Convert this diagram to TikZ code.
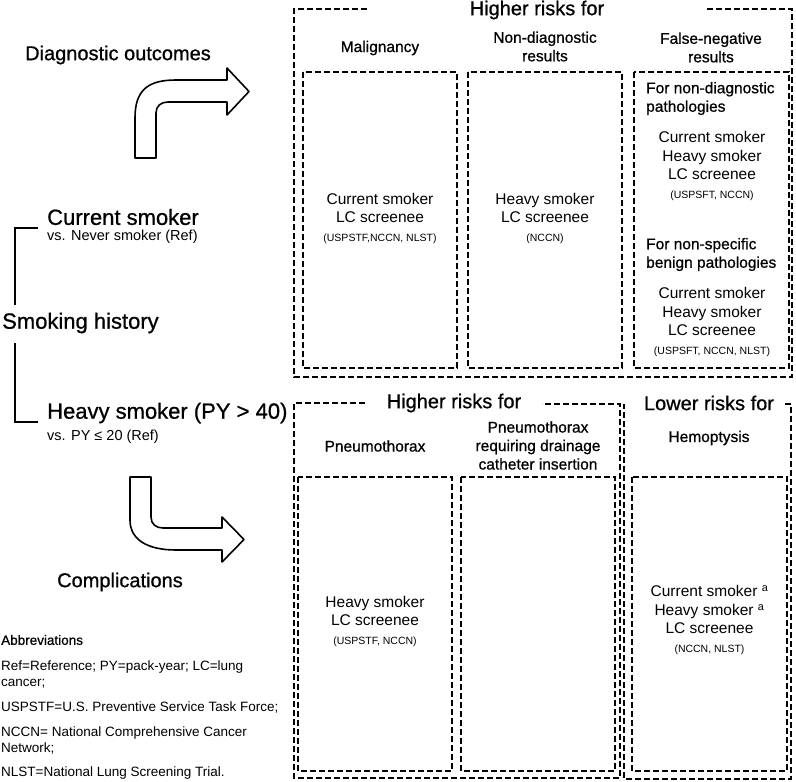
\documentclass[tikz,border=0pt]{standalone}
\usepackage{fontspec}
\setmainfont{Liberation Sans}
\newfontfamily\medfont{Liberation Sans}[FakeBold=0.8]
\newcommand{\refsrc}[1]{{\fontsize{10.5}{12}\selectfont #1}}
\begin{document}
\begin{tikzpicture}[x=1pt,y=-1pt,
	dbox/.style={line width=1.8pt,dash pattern=on 6pt off 3pt},
	bendarrow/.style={line width=1.6pt,line join=round,fill=white},
	bracket/.style={line width=2pt},
	bigtext/.style={font=\medfont\fontsize{22}{26}\selectfont,inner sep=0pt,anchor=west},
	subtext/.style={font=\fontsize{14.5}{17}\selectfont,inner sep=0pt,anchor=west},
	headtext/.style={font=\medfont\fontsize{20}{24}\selectfont,inner sep=0pt},
	coltext/.style={font=\fontsize{15.5}{18.5}\selectfont,inner sep=0pt,align=center},
	colhead/.style={coltext,font=\medfont\fontsize{15.5}{18.5}\selectfont},
	abbrtext/.style={font=\fontsize{13.5}{16}\selectfont,inner sep=0pt,anchor=west,align=left}]
		\useasboundingbox (0,0) rectangle (796,782);
		% smoking history side
		\node[headtext,anchor=west] (diag) at (25,55) {Diagnostic outcomes};
		\node[bigtext] (cur) at (47,217) {Current smoker};
		\node[subtext] (curref) at (47,237) {vs. Never smoker (Ref)};
		\node[bigtext] (hist) at (2,323) {Smoking history};
		\node[bigtext] (heavy) at (47,413) {Heavy smoker (PY > 40)};
		\node[subtext] (heavyref) at (47,437) {vs. PY ≤ 20 (Ref)};
		\node[headtext] (compl) at (120,582) {Complications};
		\draw[bracket] (38,228) -- (15,228) -- (15,305);
		\draw[bracket] (15,343) -- (15,422) -- (38,422);
		\draw[bendarrow] (135,158) -- (135,118) .. controls (135,90) and (148,80) .. (176,80) -- (227,80) -- (227,68) -- (249,91.5) -- (227,115) -- (227,102) -- (168,102) .. controls (161,102) and (156,106) .. (156,113) -- (156,158) -- cycle;
		\draw[bendarrow] (130,477) -- (130,520) .. controls (130,540) and (148,550) .. (176,550) -- (222,550) -- (222,562) -- (244,539.5) -- (222,517) -- (222,528) -- (163,528) .. controls (156,528) and (151,524) .. (151,517) -- (151,477) -- cycle;
		% abbreviations
		\node[abbrtext,font=\medfont\fontsize{13.5}{16}\selectfont] (abbr) at (1,640) {Abbreviations};
		\node[abbrtext] (abbra) at (1,674) {Ref=Reference; PY=pack-year; LC=lung\\cancer;};
		\node[abbrtext] (abbrb) at (1,707) {USPSTF=U.S. Preventive Service Task Force;};
		\node[abbrtext] (abbrc) at (1,740) {NCCN= National Comprehensive Cancer\\Network;};
		\node[abbrtext] (abbrd) at (1,773) {NLST=National Lung Screening Trial.};
		% diagnostic outcomes
		\draw[dbox] (367,9) -- (294,9) -- (294,377) -- (792,377) -- (792,9) -- (707,9);
		\foreach \l/\r in {303/457,468/622,634/789}
			\draw[dbox] (\l,72) rectangle (\r,368);
		\node[headtext] (higherdiag) at (537,10) {Higher risks for};
		\node[colhead] (malig) at (380,48) {Malignancy};
		\node[colhead] (nondiag) at (545,46.5) {Non-diagnostic\\results};
		\node[colhead] (falseneg) at (711,47.5) {False-negative\\results};
		\node[coltext] (maligin) at (380,218) {Current smoker\\LC screenee\\\refsrc{(USPSTF,NCCN, NLST)}};
		\node[coltext] (nondiagin) at (545,218) {Heavy smoker\\LC screenee\\\refsrc{(NCCN)}};
		\node[colhead,align=left,anchor=west] (fnpath) at (646,98.5) {For non-diagnostic\\pathologies};
		\node[coltext] (fnpathin) at (712,166) {Current smoker\\Heavy smoker\\LC screenee\\\refsrc{(USPSFT, NCCN)}};
		\node[colhead,align=left,anchor=west] (fnbenign) at (646,254.5) {For non-specific\\benign pathologies};
		\node[coltext] (fnbenignin) at (712,322) {Current smoker\\Heavy smoker\\LC screenee\\\refsrc{(USPSFT, NCCN, NLST)}};
		% complications
		\draw[dbox] (365,403) -- (294,403) -- (294,778) -- (620,778) -- (620,404) -- (542,404);
		\draw[dbox] (785,404) -- (791,404) -- (791,779) -- (624,779) -- (624,404);
		\foreach \l/\r in {298/452,461/615,632/787}
			\draw[dbox] (\l,477) rectangle (\r,771);
		\node[headtext] (highercompl) at (454,403) {Higher risks for};
		\node[headtext] (lowercompl) at (709,403) {Lower risks for};
		\node[colhead] (pneumo) at (375,446) {Pneumothorax};
		\node[colhead] (drain) at (538,445.5) {Pneumothorax\\requiring drainage\\catheter insertion};
		\node[colhead] (hemo) at (709,438) {Hemoptysis};
		\node[coltext] (pneumoin) at (375,621) {Heavy smoker\\LC screenee\\\refsrc{(USPSTF, NCCN)}};
		\node[coltext] (hemoin) at (709.5,620) {Current smoker \textsuperscript{a}\\Heavy smoker \textsuperscript{a}\\LC screenee\\\refsrc{(NCCN, NLST)}};
\end{tikzpicture}
\end{document}
